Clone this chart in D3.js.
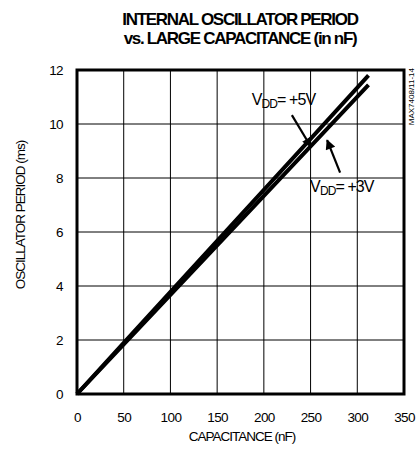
<!DOCTYPE html>
<html><head><meta charset="utf-8">
<script src="https://cdn.jsdelivr.net/npm/d3@7"></script>
<style>body{margin:0;background:#fff}svg{display:block}text{font-family:"Liberation Sans",Arial,sans-serif;fill:#000}</style>
</head><body><svg id="c" width="416" height="453"></svg>
<script>
const titleLines = ["INTERNAL OSCILLATOR PERIOD", "vs. LARGE CAPACITANCE (in nF)"];
const xLabel = "CAPACITANCE (nF)";
const yLabel = "OSCILLATOR PERIOD (ms)";
const xTicks = [0, 50, 100, 150, 200, 250, 300, 350];
const yTicks = [0, 2, 4, 6, 8, 10, 12];
const capacitance = [0, 50, 100, 150, 200, 250, 312];
const period5V = [0, 1.89, 3.78, 5.67, 7.56, 9.45, 11.8];
const period3V = [0, 1.84, 3.67, 5.5, 7.34, 9.17, 11.45];
const seriesNames = ["+5V", "+3V"];
const partNo = "MAX7408/11-14";

const svg = d3.select("#c");
const m = {l: 77, r: 12, t: 70, b: 59};
const W = 416, H = 453;
const x = d3.scaleLinear().domain([0, 350]).range([m.l, W - m.r]);
const y = d3.scaleLinear().domain([0, 12]).range([H - m.b, m.t]);

// title
titleLines.forEach((t, i) => {
  svg.append("text").attr("x", 240).attr("y", 25 + i * 19).attr("text-anchor", "middle")
    .attr("font-size", 17).attr("font-weight", "bold").attr("letter-spacing", -1.3).text(t);
});

// grid
const g = svg.append("g");
g.selectAll(".vg").data(xTicks.slice(1, -1)).join("line")
  .attr("x1", d => x(d)).attr("x2", d => x(d)).attr("y1", y(0)).attr("y2", y(12))
  .attr("stroke", "#000").attr("stroke-width", 1);
g.selectAll(".hg").data(yTicks.slice(1, -1)).join("line")
  .attr("y1", d => y(d)).attr("y2", d => y(d)).attr("x1", x(0)).attr("x2", x(350))
  .attr("stroke", "#000").attr("stroke-width", 1);

// axes (labels only)
const xa = svg.append("g").attr("transform", `translate(0,${y(0)})`)
  .call(d3.axisBottom(x).tickValues(xTicks).tickSize(0).tickPadding(18).tickFormat(d3.format("d")));
const ya = svg.append("g").attr("transform", `translate(${x(0)},0)`)
  .call(d3.axisLeft(y).tickValues(yTicks).tickSize(0).tickPadding(14).tickFormat(d3.format("d")));
[xa, ya].forEach(a => {
  a.select(".domain").remove();
  a.selectAll("text").attr("font-size", 13.5).attr("font-family", "Liberation Sans, Arial, sans-serif").attr("letter-spacing", -0.6);
});

// frame
svg.append("rect").attr("x", x(0)).attr("y", y(12)).attr("width", x(350) - x(0)).attr("height", y(0) - y(12))
  .attr("fill", "none").attr("stroke", "#000").attr("stroke-width", 3);

// axis labels
svg.append("text").attr("x", 242).attr("y", 441).attr("text-anchor", "middle")
  .attr("font-size", 13.5).attr("letter-spacing", -1).text(xLabel);
svg.append("text").attr("transform", "translate(25,215) rotate(-90)").attr("text-anchor", "middle")
  .attr("font-size", 13.5).attr("letter-spacing", -1).text(yLabel);
svg.append("text").attr("transform", "translate(414,68) rotate(-90)").attr("text-anchor", "end")
  .attr("font-size", 8).text(partNo);

// curves
const line = d3.line().x(d => x(d[0])).y(d => y(d[1]));
[period5V, period3V].forEach(s => {
  svg.append("path").datum(capacitance.map((c, i) => [c, s[i]]))
    .attr("d", line).attr("fill", "none").attr("stroke", "#000").attr("stroke-width", 4);
});

// annotations
function vddLabel(px, py, name) {
  const t = svg.append("text").attr("x", x(px)).attr("y", y(py)).attr("font-size", 16).attr("letter-spacing", -0.9);
  t.append("tspan").text("V");
  t.append("tspan").attr("font-size", 12).attr("dy", 3).text("DD");
  t.append("tspan").attr("dy", -3).text("= " + name);
}
vddLabel(187, 10.72, seriesNames[0]);
vddLabel(249.5, 7.5, seriesNames[1]);

svg.append("defs").append("marker").attr("id", "ah").attr("viewBox", "0 0 10 10").attr("refX", 9).attr("refY", 5)
  .attr("markerWidth", 5.5).attr("markerHeight", 4.5).attr("orient", "auto")
  .append("path").attr("d", "M0,0L10,5L0,10z").attr("fill", "#000");
function arrow(a, b) {
  svg.append("line").attr("x1", x(a[0])).attr("y1", y(a[1])).attr("x2", x(b[0])).attr("y2", y(b[1]))
    .attr("stroke", "#000").attr("stroke-width", 2.2).attr("marker-end", "url(#ah)");
}
arrow([230, 10.33], [250.5, 9.15]);
arrow([281.6, 8.2], [267.7, 9.4]);
</script></body></html>
